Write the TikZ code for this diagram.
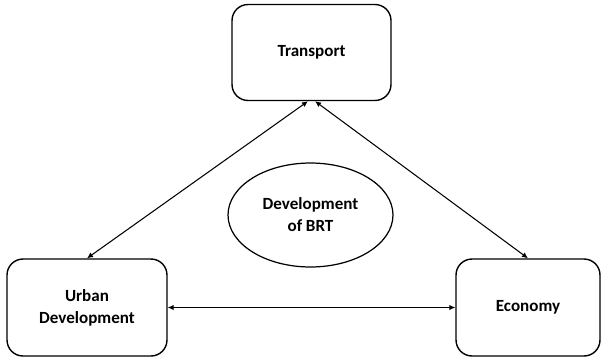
\documentclass[tikz,border=0pt]{standalone}
\usepackage{fontspec}
\setmainfont{Carlito}
\usetikzlibrary{arrows.meta,shapes.geometric}

\begin{document}
\begin{tikzpicture}[
    x=0.02cm, y=-0.02cm,
    >={Latex[length=1.2mm,width=1.1mm]},
    area/.style={rectangle, rounded corners=3.2mm, draw, line width=0.8pt, align=center,
      font=\fontsize{9.7}{12.5}\selectfont\bfseries, inner sep=0pt},
    goal/.style={ellipse, draw, line width=0.7pt, align=center, inner sep=0pt,
      minimum width=3.3cm, minimum height=2.08cm, font=\fontsize{9.7}{12.5}\selectfont\bfseries}
  ]
    \useasboundingbox (0,0) rectangle (601,359);

    \node[area, minimum width=3.18cm, minimum height=1.92cm] (transport) at (311.5,52.5) {Transport};
    \node[area, minimum width=3.2cm, minimum height=1.94cm] (urban) at (87,307.5) {Urban\\Development};
    \node[area, minimum width=2.88cm, minimum height=1.94cm] (economy) at (528,307.5) {Economy};
    \node[goal] (brt) at (310.5,215) {Development\\of BRT};

    \draw[<->, line width=0.6pt] ([xshift=-0.07cm]transport.south) -- (urban.north);
    \draw[<->, line width=0.6pt] ([xshift=0.07cm]transport.south) -- (economy.north);
    \draw[<->, line width=0.6pt] (urban) -- (economy);
  \end{tikzpicture}
\end{document}
